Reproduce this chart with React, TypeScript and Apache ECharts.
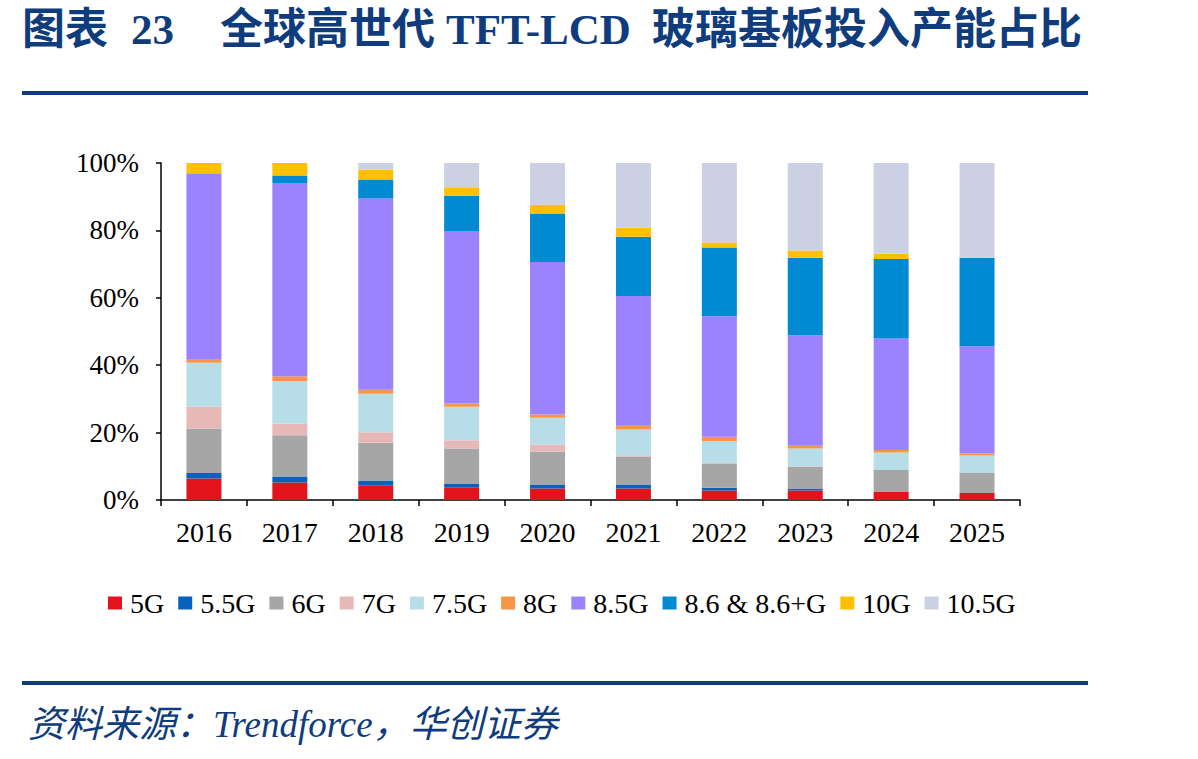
import React, { useEffect, useRef } from "react";
import * as echarts from "echarts";

// Panel size
const W = 1198;
const H = 759;

const years = ["2016", "2017", "2018", "2019", "2020", "2021", "2022", "2023", "2024", "2025"];
const yTicks = [0, 20, 40, 60, 80, 100];

// Capacity share by generation (%)
const g5 = [6.4, 5.2, 4.2, 3.6, 3.4, 3.4, 2.8, 2.8, 2.4, 2.1];
const g55 = [1.6, 1.8, 1.6, 1.3, 1.2, 1.2, 0.8, 0.6, 0, 0];
const g6 = [13.2, 12.2, 11.2, 10.4, 9.7, 8.3, 7.2, 6.5, 6.5, 5.9];
const g7 = [6.5, 3.4, 3.1, 2.4, 2.2, 0.4, 0.2, 0.1, 0, 0];
const g75 = [13.0, 12.7, 11.4, 10.0, 7.9, 7.6, 6.4, 5.3, 5.2, 5.2];
const g8 = [0.9, 1.4, 1.2, 0.9, 1.0, 1.1, 1.4, 0.8, 0.7, 0.7];
const g85 = [55.1, 57.4, 56.8, 51.2, 45.2, 38.5, 35.7, 32.8, 33.1, 31.7];
const g86 = [0.2, 2.2, 5.6, 10.5, 14.4, 17.6, 20.4, 23.0, 23.6, 26.3];
const g10 = [3.1, 3.7, 3.0, 2.5, 2.6, 2.7, 1.5, 2.1, 1.6, 0];
const g105 = [0, 0, 1.9, 7.2, 12.4, 19.2, 23.6, 26.0, 26.9, 28.1];

const seriesNames = ["5G", "5.5G", "6G", "7G", "7.5G", "8G", "8.5G", "8.6 & 8.6+G", "10G", "10.5G"];
const seriesData = [g5, g55, g6, g7, g75, g8, g85, g86, g10, g105];
const seriesColors = [
  "#E3131B",
  "#0A61BD",
  "#A6A6A6",
  "#E6B8B7",
  "#B7DEE8",
  "#F79646",
  "#9B82FE",
  "#008AD2",
  "#FFC000",
  "#CBD0E3",
];

const BLUE = "#0f3c7d";
const SERIF = "'Liberation Serif', 'Times New Roman', serif";
const TITLE_FONT = "'Liberation Serif', 'Noto Sans CJK SC', serif";

export default function App() {
  const ref = useRef<HTMLDivElement>(null);

  useEffect(() => {
    document.body.style.margin = "0";
    if (!ref.current) return;
    const chart = echarts.init(ref.current, undefined, { renderer: "svg" });

    const titleText = (text: string, x: number) => ({
      type: "text",
      x,
      y: 29,
      style: {
        text,
        fill: BLUE,
        font: `bold 43px ${TITLE_FONT}`,
        textVerticalAlign: "middle",
      },
    });

    chart.setOption({
      animation: false,
      backgroundColor: "#ffffff",
      grid: { left: 161, right: 178, top: 163, bottom: 259, containLabel: false },
      legend: {
        left: 108,
        top: 589,
        padding: 0,
        icon: "rect",
        itemWidth: 14,
        itemHeight: 13,
        itemGap: 14,
        data: seriesNames,
        textStyle: {
          fontSize: 28,
          fontFamily: SERIF,
          color: "#000",
          padding: [0, 0, 0, 3],
        },
      },
      xAxis: {
        type: "category",
        data: years,
        boundaryGap: true,
        axisLine: { lineStyle: { color: "#000", width: 1.5 } },
        axisTick: { show: true, length: 6, inside: false, lineStyle: { color: "#000", width: 1.5 } },
        axisLabel: { color: "#000", fontSize: 28, fontFamily: SERIF, margin: 18 },
        splitLine: { show: false },
      },
      yAxis: {
        type: "value",
        min: yTicks[0],
        max: yTicks[yTicks.length - 1],
        interval: 20,
        axisLine: { show: true, lineStyle: { color: "#000", width: 1.5 } },
        axisTick: { show: true, length: 5, inside: false, lineStyle: { color: "#000", width: 1.5 } },
        axisLabel: {
          color: "#000",
          fontSize: 27,
          fontFamily: SERIF,
          margin: 22,
          formatter: "{value}%",
        },
        splitLine: { show: false },
      },
      series: seriesNames.map((name, i) => ({
        name,
        type: "bar",
        stack: "share",
        barWidth: 35,
        data: seriesData[i],
        itemStyle: { color: seriesColors[i] },
      })),
      graphic: [
        titleText("图表", 22),
        titleText("23", 131),
        titleText("全球高世代", 220),
        titleText("TFT-LCD", 446),
        titleText("玻璃基板投入产能占比", 652),
        {
          type: "rect",
          shape: { x: 22, y: 91, width: 1066, height: 4 },
          style: { fill: BLUE },
        },
        {
          type: "rect",
          shape: { x: 22, y: 681, width: 1066, height: 4 },
          style: { fill: BLUE },
        },
        {
          type: "text",
          x: 28,
          y: 724,
          style: {
            text: "资料来源：Trendforce，华创证券",
            fill: BLUE,
            font: `italic 37px ${TITLE_FONT}`,
            textVerticalAlign: "middle",
          },
        },
      ],
    });

    return () => chart.dispose();
  }, []);

  return <div ref={ref} style={{ width: W, height: H }} />;
}
